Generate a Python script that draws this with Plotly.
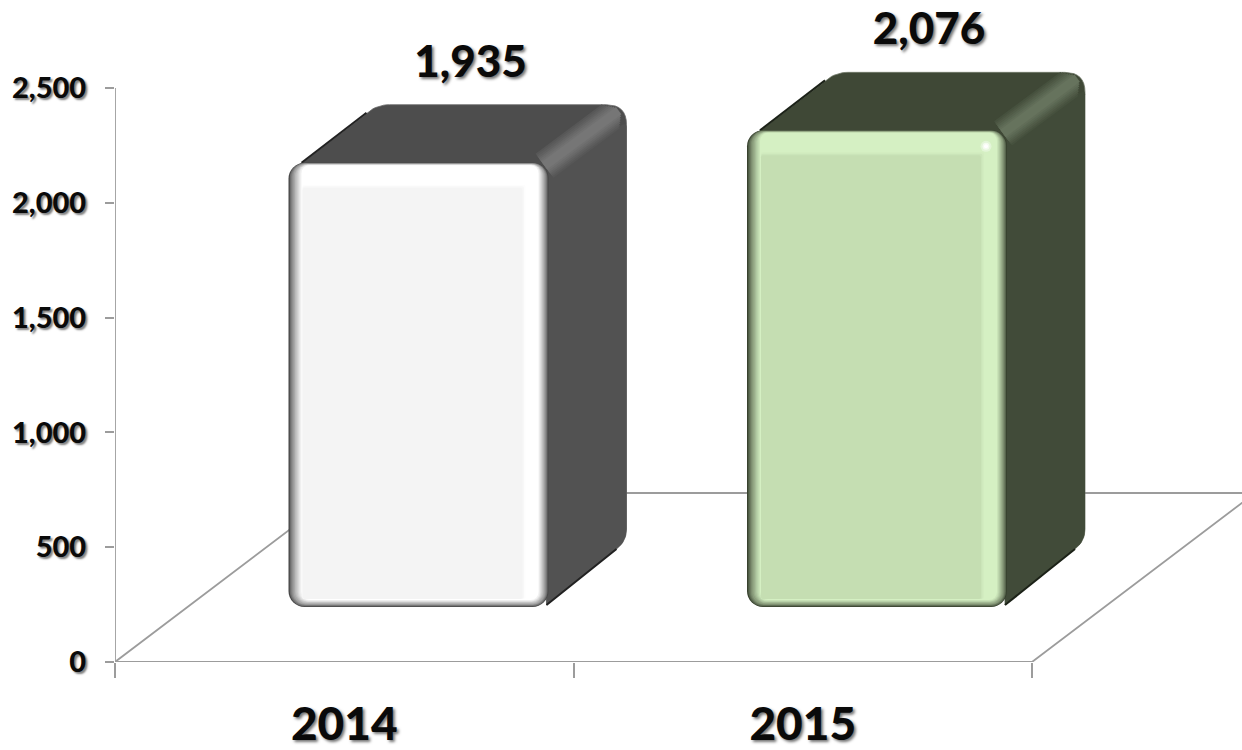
import plotly.graph_objects as go

# ---------- data ----------
categories = ["2014", "2015"]
values = [1935, 2076]
y_ticks = [0, 500, 1000, 1500, 2000, 2500]
y_ticktext = ["0", "500", "1,000", "1,500", "2,000", "2,500"]

# ---------- scale of the plot (pixels per axis unit) ----------
W, H = 1242, 750
ML, MB = 115, 88
PX_X = 458.5           # pixels per category
PX_Y = 574 / 2500      # pixels per value unit
X_MAX = (W - ML) / PX_X
Y_MAX = (H - MB) / PX_Y


def dx(p):
    return p / PX_X


def dy(p):
    return p / PX_Y


# ---------- fake 3-D geometry, all relative to the category position ----------
FLOOR = dy(55)          # front face rises above the axis floor
SHIFT = dx(303.5)       # front face centre offset from category start
BAR_W = dx(260)
DEPTH_X = dx(78)
DEPTH_Y = dy(58)
FLOOR_DX = dx(223)
FLOOR_DY = dy(169)
AXIS = "#9c9c9c"
TEXT = "#0a0a0a"
FONT = "Lato"

PALETTES = [
    dict(edge="#484848", hi="#ffffff", main="#f4f4f4", top="#4d4d4d", side="#525252",
         peak="#767676", line="#222222", rim="#6a6a6a"),
    dict(edge="#38422f", hi="#d5f0c3", main="#c5deb2", top="#3f4836", side="#414b39",
         peak="#66735d", line="#1c2218", rim="#6f7767"),
]


def lerp(c1, c2, t):
    a = [int(c1[i:i + 2], 16) for i in (1, 3, 5)]
    b = [int(c2[i:i + 2], 16) for i in (1, 3, 5)]
    return "#%02x%02x%02x" % tuple(round(p + (q - p) * t) for p, q in zip(a, b))


def rounded(points):
    """Closed outline through corners (x, y, radius px) given in axis units."""
    xs, ys = [], []
    n = len(points)
    for i in range(n):
        x0, y0 = points[i - 1][:2]
        x1, y1, rad = points[i]
        x2, y2 = points[(i + 1) % n][:2]
        if rad == 0:
            xs.append(x1)
            ys.append(y1)
            continue

        def toward(ax, ay):
            ddx, ddy = (ax - x1) * PX_X, (ay - y1) * PX_Y
            d = (ddx ** 2 + ddy ** 2) ** 0.5
            k = min(rad / d, 0.5)
            return x1 + (ax - x1) * k, y1 + (ay - y1) * k

        sx, sy = toward(x0, y0)
        ex, ey = toward(x2, y2)
        for s in range(9):
            t = s / 8
            xs.append((1 - t) ** 2 * sx + 2 * t * (1 - t) * x1 + t ** 2 * ex)
            ys.append((1 - t) ** 2 * sy + 2 * t * (1 - t) * y1 + t ** 2 * ey)
    return xs + xs[:1], ys + ys[:1]


fig = go.Figure()

# floor of the 3-D box
fig.add_trace(go.Scatter(
    x=[0, FLOOR_DX, 2 + FLOOR_DX, 2, 0],
    y=[0, FLOOR_DY, FLOOR_DY, 0, 0],
    mode="lines", line=dict(color=AXIS, width=1.8), hoverinfo="skip", showlegend=False))
# value axis line
fig.add_trace(go.Scatter(
    x=[0, 0], y=[0, y_ticks[-1]], mode="lines", line=dict(color=AXIS, width=1.8),
    hoverinfo="skip", showlegend=False))

# top and side faces
for i, v in enumerate(values):
    p = PALETTES[i]
    left = i + SHIFT - BAR_W / 2
    right = i + SHIFT + BAR_W / 2
    bottom = FLOOR
    top = FLOOR + v
    sx, sy = rounded([
        (left + dx(11), top - dy(2), 0),
        (left + DEPTH_X + dx(11), top + DEPTH_Y, 12),
        (right + DEPTH_X, top + DEPTH_Y, 20),
        (right + DEPTH_X, bottom + dy(66), 12),
        (right - dx(2), bottom + dy(2), 0),
        (right - dx(6), top - dy(4), 0),
    ])
    fig.add_trace(go.Scatter(x=sx, y=sy, mode="lines", fill="toself", fillcolor=p["top"],
                             line=dict(color=p["rim"], width=0.8),
                             hoverinfo="skip", showlegend=False))
    ex, ey = rounded([
        (right - dx(2), bottom + dy(2), 0),
        (right + DEPTH_X, bottom + dy(66), 12),
        (right + DEPTH_X, top + DEPTH_Y - dy(18), 4),
        (right, top, 0),
    ])
    fig.add_trace(go.Scatter(x=ex, y=ey, mode="lines", fill="toself", fillcolor=p["side"],
                             line=dict(width=0), hoverinfo="skip", showlegend=False))
    # soft highlight along the slanted top-right edge
    BAND_LAYERS = 7
    for k in range(BAND_LAYERS):
        f = k / (BAND_LAYERS - 1)
        fig.add_trace(go.Scatter(
            x=[right - dx(4), right + DEPTH_X * (0.80 + 0.10 * f)],
            y=[top - dy(3), top + DEPTH_Y * (0.80 + 0.10 * f)],
            mode="lines",
            line=dict(color=lerp(p["side"], p["peak"], (k + 1) / BAND_LAYERS), width=30 - 21 * f),
            hoverinfo="skip", showlegend=False))
    # dark slanted edges
    fig.add_trace(go.Scatter(
        x=[left + dx(13), left + dx(78)], y=[top, top + dy(50)],
        mode="lines", line=dict(color=p["line"], width=2),
        hoverinfo="skip", showlegend=False))
    fig.add_trace(go.Scatter(
        x=[right - dx(2), right + dx(68)], y=[bottom + dy(2), bottom + dy(58)],
        mode="lines", line=dict(color=p["line"], width=2),
        hoverinfo="skip", showlegend=False))


# front faces: nested rounded bars build up the bevel
def add_front(l, r, t, b, colors, radius):
    xs, widths, bases, ys = [], [], [], []
    for i, v in enumerate(values):
        x_left = i + SHIFT - BAR_W / 2 + dx(l)
        x_right = i + SHIFT + BAR_W / 2 - dx(r)
        lo = FLOOR + dy(b)
        hi = FLOOR + v - dy(t)
        xs.append((x_left + x_right) / 2)
        widths.append(x_right - x_left)
        bases.append(lo)
        ys.append(hi - lo)
    fig.add_trace(go.Bar(
        x=xs, y=ys, base=bases, width=widths, xaxis="x2", yaxis="y2",
        marker=dict(color=colors, line=dict(width=0), cornerradius=radius),
        hoverinfo="skip", showlegend=False))


STEPS = 11
for s in range(STEPS):
    t = s / (STEPS - 1)
    cols = [lerp(p["edge"], p["hi"], t ** 0.7) for p in PALETTES]
    add_front(13 * t, 10 * t, 2.5 * t, 7 * t, cols, max(16 - 8 * t, 3))
for inset_r, inset_t, mix in ((23, 22, 0.2), (24.5, 23.5, 0.6), (26, 25, 1.0)):
    cols = [lerp(p["hi"], p["main"], mix) for p in PALETTES]
    add_front(14, inset_r, inset_t, 8, cols, 2)

# small specular spot on the green bar
SPOT_X = [1 + SHIFT + BAR_W / 2 - dx(21)]
SPOT_Y = [FLOOR + values[1] - dy(16)]
for size, alpha in ((11, 0.35), (7, 0.6), (4, 1.0)):
    fig.add_trace(go.Scatter(
        x=SPOT_X, y=SPOT_Y, mode="markers",
        marker=dict(color=f"rgba(255,255,255,{alpha})", size=size),
        xaxis="x2", yaxis="y2", hoverinfo="skip", showlegend=False))

# data labels
fig.add_trace(go.Scatter(
    x=[i + SHIFT + dx(52) for i in range(len(values))],
    y=[FLOOR + v + DEPTH_Y + dy(39) for v in values],
    text=[f"{v:,}" for v in values], mode="text", textposition="middle center",
    textfont=dict(family=FONT, size=44, color=TEXT, weight=900,
                  shadow="2px 2px 3px rgba(0,0,0,0.55)"),
    xaxis="x2", yaxis="y2", hoverinfo="skip", showlegend=False))

fig.update_layout(
    width=W, height=H, autosize=False, barmode="overlay",
    paper_bgcolor="white", plot_bgcolor="white", showlegend=False,
    margin=dict(l=ML, r=0, t=0, b=MB, pad=0, autoexpand=False),
    xaxis=dict(range=[0, X_MAX], tickvals=[0, 1, 2], ticktext=["", "", ""],
               ticks="outside", ticklen=15, tickcolor=AXIS, tickwidth=1.8,
               showgrid=False, zeroline=False, showline=False),
    yaxis=dict(range=[0, Y_MAX], tickvals=y_ticks, ticktext=y_ticktext,
               ticks="outside", ticklen=9, tickcolor=AXIS, tickwidth=1.8,
               showgrid=False, zeroline=False, showline=False,
               ticklabelstandoff=13,
               tickfont=dict(family=FONT, size=29, color=TEXT, weight=900,
                             shadow="2px 2px 2px rgba(0,0,0,0.5)")),
    xaxis2=dict(range=[0, X_MAX], overlaying="x", anchor="y2", side="bottom",
                tickvals=[i + 0.5 for i in range(len(categories))], ticktext=categories,
                ticks="", showgrid=False, zeroline=False, showline=False,
                ticklabelstandoff=31,
                tickfont=dict(family=FONT, size=46, color=TEXT, weight=900,
                              shadow="2px 2px 3px rgba(0,0,0,0.55)")),
    yaxis2=dict(range=[0, Y_MAX], overlaying="y", anchor="x2", visible=False),
)

fig.write_html("out.html", config={"displayModeBar": False},
               post_script="document.body.style.margin='0';document.body.style.overflow='hidden';")
